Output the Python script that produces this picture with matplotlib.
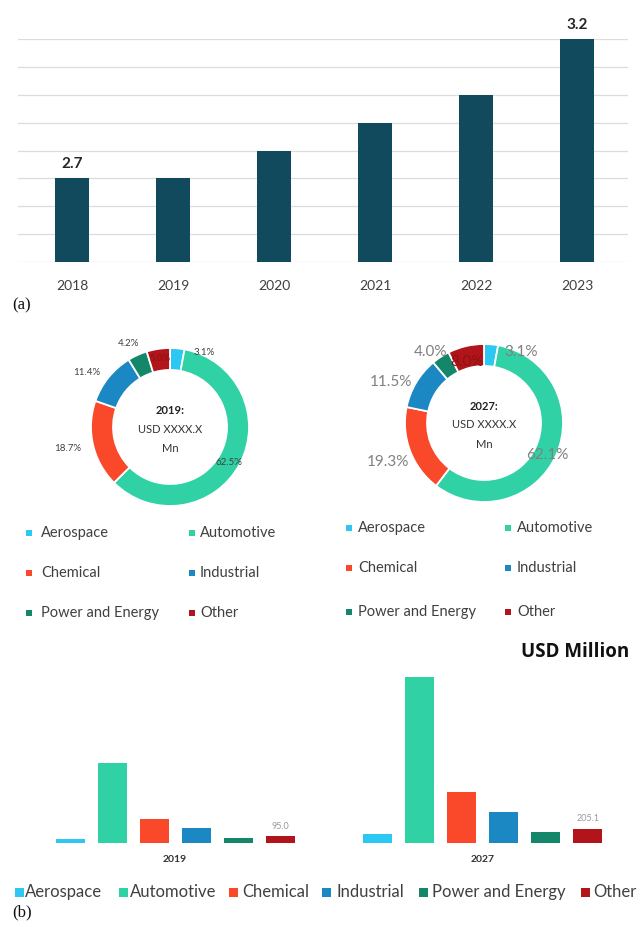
import numpy as np
import matplotlib
matplotlib.use("Agg")
import matplotlib.pyplot as plt
from matplotlib.patches import Rectangle

plt.rcParams['font.family'] = ['Lato', 'DejaVu Sans']

# ---- data -------------------------------------------------------------
years = ["2018", "2019", "2020", "2021", "2022", "2023"]
market_size = [2.7, 2.7, 2.8, 2.9, 3.0, 3.2]

segments = ["Aerospace", "Automotive", "Chemical", "Industrial",
            "Power and Energy", "Other"]
seg_colors = ["#2cc7f2", "#30d2a5", "#f9492a", "#1c88c3", "#14876a", "#b1151b"]

share_2019 = [3.1, 62.5, 18.7, 11.4, 4.2, 5.0]
share_2027 = [3.1, 62.1, 19.3, 11.5, 4.0, 8.0]

usd_2019 = [58, 1150, 350, 216, 75, 95.0]
usd_2027 = [128, 2390, 740, 442, 154, 205.1]
bar_years = ["2019", "2027"]

W, H = 643, 927
fig = plt.figure(figsize=(W / 100, H / 100), dpi=100)


def frac(x0, y0, x1, y1):
    return [x0 / W, 1 - y1 / H, (x1 - x0) / W, (y1 - y0) / H]


# ---- (a) yearly market size ------------------------------------------
ax1 = fig.add_axes(frac(18, 39, 628, 262))
xpos = np.arange(len(years))
ax1.bar(xpos, market_size, width=0.33, color="#114a5c", zorder=3)
ax1.set_ylim(2.4, 3.2)
ax1.set_xlim(-0.535, 5.505)
ax1.set_yticks(np.arange(2.4, 3.21, 0.1))
ax1.yaxis.grid(True, color="#dcdcdc", linewidth=0.9, zorder=0)
ax1.tick_params(axis="y", length=0, labelleft=False)
ax1.set_xticks(xpos, years)
ax1.tick_params(axis="x", length=0, pad=13, labelsize=10, labelcolor="#404040")
for s in ax1.spines.values():
    s.set_visible(False)
for i in (0, len(years) - 1):
    ax1.annotate(f"{market_size[i]:.1f}", (xpos[i], market_size[i]),
                 xytext=(0, 5), textcoords="offset points", ha="center",
                 va="bottom", fontsize=11, fontweight="bold", color="#262626",
                 annotation_clip=False)

# ---- donuts ----------------------------------------------------------
def donut(cx, cy, shares, year, label_xy, label_style):
    ax = fig.add_axes(frac(cx - 130, cy - 130, cx + 130, cy + 130))
    ax.pie(shares, radius=0.79, startangle=90, counterclock=False,
           colors=seg_colors,
           wedgeprops=dict(width=0.22, edgecolor="white", linewidth=1.3))
    ax.set_xlim(-1.3, 1.3)
    ax.set_ylim(-1.3, 1.3)
    ax.set_aspect("equal")
    ax.axis("off")
    for k, (v, (lx, ly)) in enumerate(zip(shares, label_xy)):
        col = "#8c1212" if k == len(shares) - 1 else label_style["color"]
        ax.text(lx, ly, f"{v:.1f}%", ha="center", va="center",
                fontsize=label_style["size"], color=col,
                fontweight=label_style["weight"])
    ax.text(0, 0.17, f"{year}:", ha="center", va="center", fontsize=8,
            fontweight="bold", color="#222222")
    ax.text(0, -0.02, "USD XXXX.X", ha="center", va="center", fontsize=8,
            color="#333333")
    ax.text(0, -0.21, "Mn", ha="center", va="center", fontsize=8,
            color="#333333")


donut(170, 427, share_2019, "2019",
      [(0.34, 0.75), (0.59, -0.35), (-1.02, -0.21), (-0.83, 0.55),
       (-0.41, 0.84), (-0.10, 0.69)],
      dict(color="#404040", size=7, weight="normal"))
donut(484, 423, share_2027, "2027",
      [(0.37, 0.71), (0.63, -0.32), (-0.96, -0.39), (-0.93, 0.41),
       (-0.53, 0.71), (-0.17, 0.61)],
      dict(color="#808080", size=11, weight="normal"))

# ---- (b) segment values ---------------------------------------------
ax3 = fig.add_axes(frac(0, 660, 643, 843))
group_gap = 7.33
for g, vals in enumerate([usd_2019, usd_2027]):
    pos = g * group_gap + np.arange(len(segments))
    ax3.bar(pos, vals, width=0.69, color=seg_colors)
    ax3.annotate(f"{vals[-1]:.1f}", (pos[-1], vals[-1]), xytext=(0, 4),
                 textcoords="offset points", ha="center", va="bottom",
                 fontsize=6.5, color="#9a9a9a")
ax3.set_xlim(-1.667, 13.64)
ax3.set_ylim(0, 2635)
centers = [g * group_gap + (len(segments) - 1) / 2 for g in range(2)]
ax3.set_xticks(centers, bar_years)
ax3.tick_params(axis="x", length=0, pad=9, labelsize=7.5, labelcolor="#333333")
for lab in ax3.get_xticklabels():
    lab.set_fontweight("bold")
ax3.set_yticks([])
for s in ax3.spines.values():
    s.set_visible(False)

# ---- free text, legends ----------------------------------------------
ov = fig.add_axes([0, 0, 1, 1])
ov.set_xlim(0, W)
ov.set_ylim(H, 0)
ov.axis("off")
ov.patch.set_alpha(0)

serif = ["Liberation Serif", "DejaVu Serif"]
ov.text(12, 305, "(a)", fontsize=12, family=serif, va="center", ha="left",
        color="#111111")
ov.text(12, 912, "(b)", fontsize=12, family=serif, va="center", ha="left",
        color="#111111")
ov.text(629, 652, "USD Million", fontsize=13.5, fontweight="bold",
        family=["Open Sans", "DejaVu Sans"], ha="right", va="center",
        color="#111111")


def legend_item(x_key, x_text, y, color, text, size, key=6):
    ov.add_patch(Rectangle((x_key - key / 2, y - key / 2), key, key,
                           color=color, lw=0))
    ov.text(x_text, y, text, fontsize=size, ha="left", va="center",
            color="#404040")


# donut legends: two columns, three rows
rows_l = [533, 573, 613]
rows_r = [528, 568, 612]
for k, seg in enumerate(segments):
    r, c = divmod(k, 2)
    legend_item([29, 192][c], [41, 200][c], rows_l[r], seg_colors[k], seg, 10.5)
    legend_item([349, 508][c], [358, 517][c], rows_r[r], seg_colors[k], seg, 10.5)

# bottom legend, single row
keys_x = [19, 123, 233, 326, 423, 585]
text_x = [25, 130, 242, 337, 432, 593]
for k, seg in enumerate(segments):
    legend_item(keys_x[k], text_x[k], 892, seg_colors[k], seg, 12, key=9)

fig.savefig("out.png", dpi=100, facecolor="white")
